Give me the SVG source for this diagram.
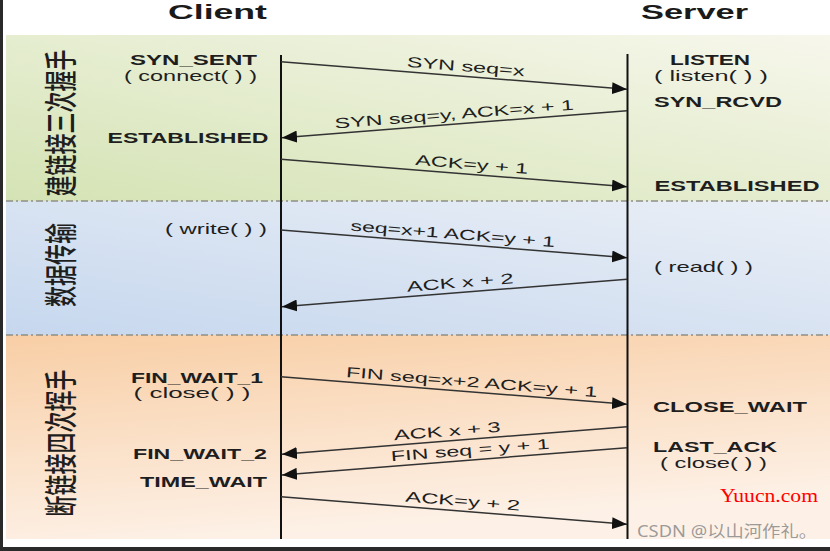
<svg xmlns="http://www.w3.org/2000/svg" width="830" height="551" viewBox="0 0 830 551">
<defs>
<linearGradient id="gGreen" x1="1" y1="0" x2="0" y2="1">
<stop offset="0" stop-color="#f7f7ec"/>
<stop offset="1" stop-color="#d4e3b4"/>
</linearGradient>
<linearGradient id="gBlue" x1="0" y1="1" x2="1" y2="0">
<stop offset="0" stop-color="#c6d7ee"/>
<stop offset="1" stop-color="#eaeff6"/>
</linearGradient>
<linearGradient id="gOrange" x1="0" y1="0" x2="0.3" y2="1">
<stop offset="0" stop-color="#f8cea5"/>
<stop offset="1" stop-color="#fdf1e7"/>
</linearGradient>
<marker id="ah" markerUnits="userSpaceOnUse" markerWidth="16" markerHeight="12" refX="15" refY="6" orient="auto">
<path d="M0,0 L15,6 L0,12 Z" fill="#111"/>
</marker>
<style>
.hd{font-family:"Liberation Sans",Arial,sans-serif;font-weight:bold;font-size:21px;fill:#1a1a1a;text-anchor:middle}
.st{font-family:"Liberation Sans",Arial,sans-serif;font-weight:bold;font-size:14.5px;fill:#1e1e1e;text-anchor:middle}
.fn{font-family:"Liberation Sans",Arial,sans-serif;font-size:14.5px;fill:#1e1e1e;text-anchor:middle}
.lb{font-family:"Liberation Sans",Arial,sans-serif;font-size:14.5px;fill:#1e1e1e;text-anchor:middle}
.cn{font-family:"Noto Sans CJK SC","Noto Sans CJK JP",sans-serif;font-size:21px;fill:#1e1e1e;text-anchor:middle;font-weight:500}
.sep{stroke:#8e8e86;stroke-width:1.6;stroke-dasharray:7 3 2 3;fill:none}
.life{stroke:#111;stroke-width:2;fill:none}
.msg{stroke:#333;stroke-width:1.5;fill:none;marker-end:url(#ah)}
</style>
</defs>
<rect x="0" y="0" width="830" height="551" fill="#ffffff"/>
<rect x="0" y="0" width="3" height="551" fill="#2a2a2a"/>
<rect x="0" y="547" width="830" height="4" fill="#2a2a2a"/>
<g id="bands">
<rect x="6" y="35" width="824" height="166" fill="url(#gGreen)"/>
<rect x="6" y="201" width="824" height="134" fill="url(#gBlue)"/>
<rect x="6" y="335" width="824" height="204" fill="url(#gOrange)"/>
<line class="sep" x1="6" y1="201" x2="830" y2="201"/>
<line class="sep" x1="6" y1="335" x2="830" y2="335"/>
</g>
<g id="headers">
<text class="hd" x="217.5" y="18.5" textLength="99" lengthAdjust="spacingAndGlyphs">Client</text>
<text class="hd" x="694.5" y="18.5" textLength="107" lengthAdjust="spacingAndGlyphs">Server</text>
</g>
<g id="phases">
<text class="cn" transform="translate(73,123) rotate(-90) scale(1,1.55)">建链接三次握手</text>
<text class="cn" transform="translate(73,265) rotate(-90) scale(1,1.55)">数据传输</text>
<text class="cn" transform="translate(73,443) rotate(-90) scale(1,1.55)">断链接四次挥手</text>
</g>
<g id="lifelines">
<line class="life" x1="281" y1="55" x2="281" y2="539"/>
<line class="life" x1="627.5" y1="54" x2="627.5" y2="539"/>
</g>
<g id="client-states">
<text class="st" x="193.5" y="65" textLength="127" lengthAdjust="spacingAndGlyphs">SYN_SENT</text>
<text class="fn" x="190.5" y="81" textLength="133" lengthAdjust="spacingAndGlyphs">( connect( ) )</text>
<text class="st" x="188" y="143" textLength="161" lengthAdjust="spacingAndGlyphs">ESTABLISHED</text>
<text class="fn" x="216" y="234" textLength="102" lengthAdjust="spacingAndGlyphs">( write( ) )</text>
<text class="st" x="197" y="383" textLength="132" lengthAdjust="spacingAndGlyphs">FIN_WAIT_1</text>
<text class="fn" x="192" y="398" textLength="117" lengthAdjust="spacingAndGlyphs">( close( ) )</text>
<text class="st" x="200" y="459" textLength="134" lengthAdjust="spacingAndGlyphs">FIN_WAIT_2</text>
<text class="st" x="203.5" y="487" textLength="127" lengthAdjust="spacingAndGlyphs">TIME_WAIT</text>
</g>
<g id="server-states">
<text class="st" x="710" y="65" textLength="80" lengthAdjust="spacingAndGlyphs">LISTEN</text>
<text class="fn" x="711" y="81" textLength="114" lengthAdjust="spacingAndGlyphs">( listen( ) )</text>
<text class="st" x="718" y="107" textLength="128" lengthAdjust="spacingAndGlyphs">SYN_RCVD</text>
<text class="st" x="737" y="191" textLength="165" lengthAdjust="spacingAndGlyphs">ESTABLISHED</text>
<text class="fn" x="703.5" y="272" textLength="99" lengthAdjust="spacingAndGlyphs">( read( ) )</text>
<text class="st" x="730" y="412" textLength="154" lengthAdjust="spacingAndGlyphs">CLOSE_WAIT</text>
<text class="st" x="715" y="452" textLength="124" lengthAdjust="spacingAndGlyphs">LAST_ACK</text>
<text class="fn" x="713.5" y="468" textLength="107" lengthAdjust="spacingAndGlyphs">( close( ) )</text>
</g>
<g id="connectors">
<line class="msg" x1="281" y1="61.7" x2="627" y2="89.3"/>
<line class="msg" x1="627" y1="110.7" x2="282" y2="137.7"/>
<line class="msg" x1="281" y1="159.3" x2="627" y2="186.7"/>
<line class="msg" x1="281" y1="230" x2="627" y2="257.7"/>
<line class="msg" x1="627" y1="279.3" x2="282" y2="306.7"/>
<line class="msg" x1="281" y1="376.7" x2="627" y2="404.3"/>
<line class="msg" x1="627" y1="426.7" x2="282" y2="454.3"/>
<line class="msg" x1="627" y1="447.7" x2="282" y2="475"/>
<line class="msg" x1="281" y1="496.7" x2="627" y2="524.3"/>
</g>
<g id="connector-labels">
<text class="lb" transform="translate(465,76.4) rotate(4.56)" x="0" y="-5" textLength="118" lengthAdjust="spacingAndGlyphs">SYN seq=x</text>
<text class="lb" transform="translate(455,124.1) rotate(-4.47)" x="0" y="-5" textLength="240" lengthAdjust="spacingAndGlyphs">SYN seq=y, ACK=x + 1</text>
<text class="lb" transform="translate(471,174.3) rotate(4.53)" x="0" y="-5" textLength="113" lengthAdjust="spacingAndGlyphs">ACK=y + 1</text>
<text class="lb" transform="translate(452,243.7) rotate(4.58)" x="0" y="-5" textLength="205" lengthAdjust="spacingAndGlyphs">seq=x+1 ACK=y + 1</text>
<text class="lb" transform="translate(461,292.4) rotate(-4.53)" x="0" y="-5" textLength="107" lengthAdjust="spacingAndGlyphs">ACK x + 2</text>
<text class="lb" transform="translate(471,391.9) rotate(4.56)" x="0" y="-5" textLength="252" lengthAdjust="spacingAndGlyphs">FIN seq=x+2 ACK=y + 1</text>
<text class="lb" transform="translate(448,441) rotate(-4.56)" x="0" y="-5" textLength="107" lengthAdjust="spacingAndGlyphs">ACK x + 3</text>
<text class="lb" transform="translate(471,460) rotate(-4.51)" x="0" y="-5" textLength="159" lengthAdjust="spacingAndGlyphs">FIN seq = y + 1</text>
<text class="lb" transform="translate(462,511) rotate(4.56)" x="0" y="-5" textLength="115" lengthAdjust="spacingAndGlyphs">ACK=y + 2</text>
</g>
<g id="watermarks">
<text x="769" y="502" text-anchor="middle" font-family="'Liberation Serif',serif" font-size="18" fill="#ff0000" textLength="98" lengthAdjust="spacingAndGlyphs">Yuucn.com</text>
<text x="727" y="537" text-anchor="middle" font-family="'Noto Sans','Noto Sans CJK SC',sans-serif" font-size="16" fill="#8a8a8a" fill-opacity="0.85" textLength="180" lengthAdjust="spacingAndGlyphs">CSDN @以山河作礼。</text>
</g>
</svg>
